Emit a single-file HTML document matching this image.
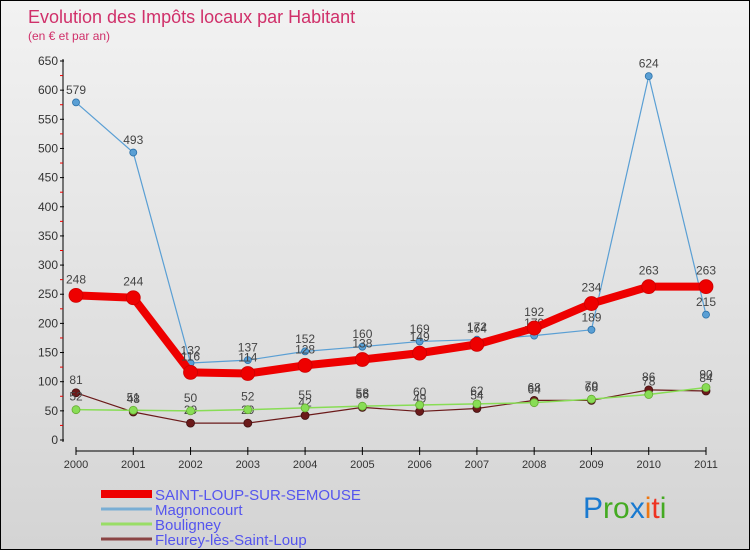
<!DOCTYPE html>
<html><head><meta charset="utf-8"><style>
body{margin:0;}
#c{width:748px;height:548px;border:1px solid #000;background:linear-gradient(#f2f2f2,#d4d4d4);position:relative;overflow:hidden;font-family:"Liberation Sans",sans-serif;}
text{font-family:"Liberation Sans",sans-serif;}
</style></head><body>
<div id="c">
<svg id="s" width="748" height="548"></svg>
</div>
<script>
const years=["2000","2001","2002","2003","2004","2005","2006","2007","2008","2009","2010","2011"];
const saintLoup=[248,244,116,114,128,138,149,164,192,234,263,263];
const magnoncourt=[579,493,132,137,152,160,169,172,179,189,624,215];
const bouligney=[52,51,50,52,55,58,60,62,64,70,78,90];
const fleurey=[81,48,29,29,42,56,49,54,68,68,86,84];
const yTicks=[0,50,100,150,200,250,300,350,400,450,500,550,600,650];
const NS="http://www.w3.org/2000/svg";
const s=document.getElementById('s');
const x=i=>75+i*(630/11);
const y=v=>439-v*(379/650);
function el(t,a,p){const e=document.createElementNS(NS,t);for(const k in a)e.setAttribute(k,a[k]);(p||s).appendChild(e);return e;}
let t=el('text',{x:27,y:22,fill:'#d0306a','font-size':18});t.textContent='Evolution des Impôts locaux par Habitant';

t=el('text',{x:27,y:39,fill:'#d0306a','font-size':12});t.textContent='(en € et par an)';

let a=el('line',{x1:62,y1:58,x2:62,y2:441,stroke:'#000'});

yTicks.forEach(v=>{el('line',{x1:59,x2:63,y1:y(v),y2:y(v),stroke:'#000'});
 if(v<650) el('line',{x1:59,x2:62,y1:y(v+25),y2:y(v+25),stroke:'#e00'});
 const tt=el('text',{x:57,y:y(v)+4,'text-anchor':'end','font-size':12,fill:'#333'});tt.textContent=v;
 });
a=el('line',{x1:75,y1:450,x2:705,y2:450,stroke:'#000'});

years.forEach((yr,i)=>{el('line',{x1:x(i),x2:x(i),y1:446,y2:454,stroke:'#000'});
 const tt=el('text',{x:x(i),y:467,'text-anchor':'middle','font-size':11,fill:'#333'});tt.textContent=yr;
 });
function series(data,color,w,r,name,dark){
 const g=el('g',{});
 
 el('polyline',{points:data.map((v,i)=>x(i)+','+y(v)).join(' '),fill:'none',stroke:color,'stroke-width':w,'stroke-linejoin':'round'},g);
 data.forEach((v,i)=>{const c=el('circle',{cx:x(i),cy:y(v),r:r,fill:color,stroke:dark,'stroke-width':0.8},g);
  
  const l=el('text',{x:x(i),y:y(v)-r-5,'text-anchor':'middle','font-size':12,fill:'#444'},g);l.textContent=v;
  });
}
series(fleurey,'#6b1a1a',1.2,4,'fleurey-series','#401010');
series(bouligney,'#88dd55',1.5,4,'bouligney-series','#66aa33');
series(magnoncourt,'#5a9fd4',1.2,3.5,'magnoncourt-series','#2a70a8');
series(saintLoup,'#ee0000',8,7,'saint-loup-series','#cc0000');
const leg=[['SAINT-LOUP-SUR-SEMOUSE','#ee0000',8],['Magnoncourt','#7aaed4',3],['Bouligney','#99dd66',3],['Fleurey-lès-Saint-Loup','#8a4444',3]];
leg.forEach((L,i)=>{const yy=493+i*15;
 const g=el('g',{});
 el('line',{x1:100,x2:151,y1:yy,y2:yy,stroke:L[1],'stroke-width':L[2]},g);
 const tt=el('text',{x:154,y:yy+6,'font-size':15,fill:'#5555ee'},g);tt.textContent=L[0];});
const lg=el('text',{x:582,y:517,'font-size':30});

[['P','#1a7ad0'],['ro','#44aa22'],['x','#1a7ad0'],['i','#ee7711'],['t','#ee3322'],['i','#44aa22']].forEach(p=>{const sp=el('tspan',{fill:p[1]},lg);sp.textContent=p[0];});
</script>
</body></html>
